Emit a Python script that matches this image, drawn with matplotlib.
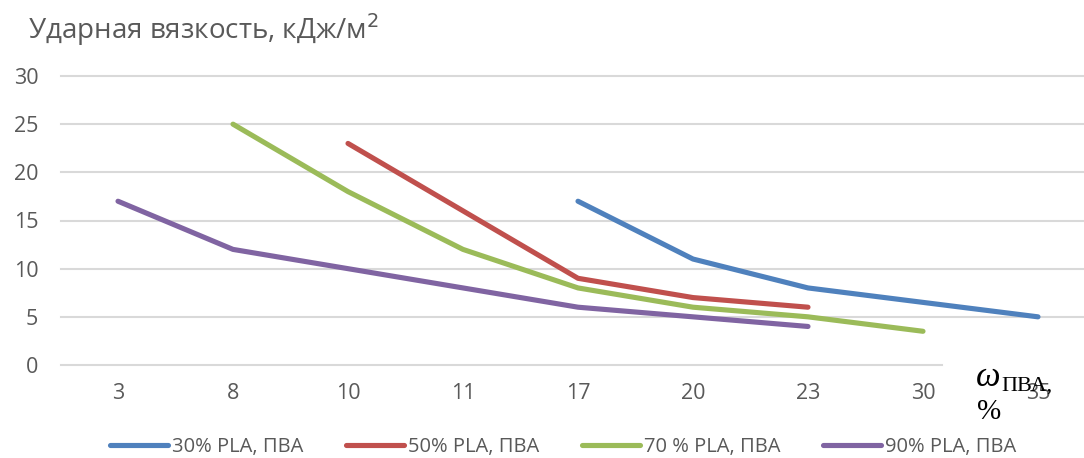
import matplotlib
matplotlib.use("Agg")
import matplotlib.pyplot as plt
import numpy as np

categories = ["3", "8", "10", "11", "17", "20", "23", "30", "35"]
s30 = [None, None, None, None, 17, 11, 8, 6.5, 5]
s50 = [None, None, 23, 16, 9, 7, 6, None, None]
s70 = [None, 25, 18, 12, 8, 6, 5, 3.5, None]
s90 = [17, 12, 10, 8, 6, 5, 4, None, None]
series_names = ["30% PLA, ПВА", "50% PLA, ПВА", "70 % PLA, ПВА", "90% PLA, ПВА"]
colors = ["#4F81BD", "#C0504D", "#9BBB59", "#8064A2"]
yticks = [0, 5, 10, 15, 20, 25, 30]

W, H = 1084, 458
fig = plt.figure(figsize=(W / 100, H / 100), dpi=100)
left_px, bottom_px, top_px = 60.5, 365, 76
ax = fig.add_axes([left_px / W, (H - bottom_px) / H, (W - left_px) / W, (bottom_px - top_px) / H])
step = 115.0
ax.set_xlim(-0.5, -0.5 + (W - left_px) / step)
ax.set_ylim(0, 30)

font = "Open Sans"
gray = "#595959"

# gridlines
for yv in yticks:
    xmax = 1.0
    if yv == 0:
        xmax = (942 - left_px) / (W - left_px)
    ax.axhline(yv, xmin=0, xmax=xmax, color="#D9D9D9", lw=1.5, zorder=0.5, clip_on=False)

x = np.arange(len(categories))
for name, vals, c in zip(series_names, [s30, s50, s70, s90], colors):
    y = np.array([np.nan if v is None else v for v in vals], dtype=float)
    ax.plot(x, y, color=c, lw=3.7, solid_capstyle="round", solid_joinstyle="round", label=name, zorder=3)

for sp in ax.spines.values():
    sp.set_visible(False)
ax.set_xticks(x)
ax.set_xticklabels(categories)
ax.set_yticks(yticks)
ax.tick_params(axis="both", length=0, labelcolor=gray)
ax.tick_params(axis="x", pad=13)
ax.tick_params(axis="y", pad=16)
for lab in ax.get_xticklabels() + ax.get_yticklabels():
    lab.set_fontfamily(font)
    lab.set_fontsize(15.5)

fig.text(28 / W, 1 - 30 / H, "Ударная вязкость, кДж/м$^2$", fontsize=20, color=gray,
         family=font, va="center", ha="left")

# x-axis label
serif = "Liberation Serif"
fig.text(976 / W, 1 - 378 / H, "ω", fontsize=25, style="italic", family=serif,
         color="black", va="center", ha="left")
fig.text(1001 / W, 1 - 386 / H, "ПВА,", fontsize=16, family=serif,
         color="black", va="center", ha="left")
fig.text(977 / W, 1 - 412 / H, "%", fontsize=21, family=serif,
         color="black", va="center", ha="left")

leg = fig.legend(loc="center", bbox_to_anchor=(563 / W, 1 - 447 / H), ncol=4, frameon=False,
                 prop={"family": font, "size": 14.5}, handlelength=2.9, handletextpad=0.2,
                 columnspacing=2.1)
for t in leg.get_texts():
    t.set_color(gray)
for h in leg.get_lines():
    h.set_linewidth(3.7)
    h.set_solid_capstyle("round")

fig.savefig("out.png", dpi=100)
